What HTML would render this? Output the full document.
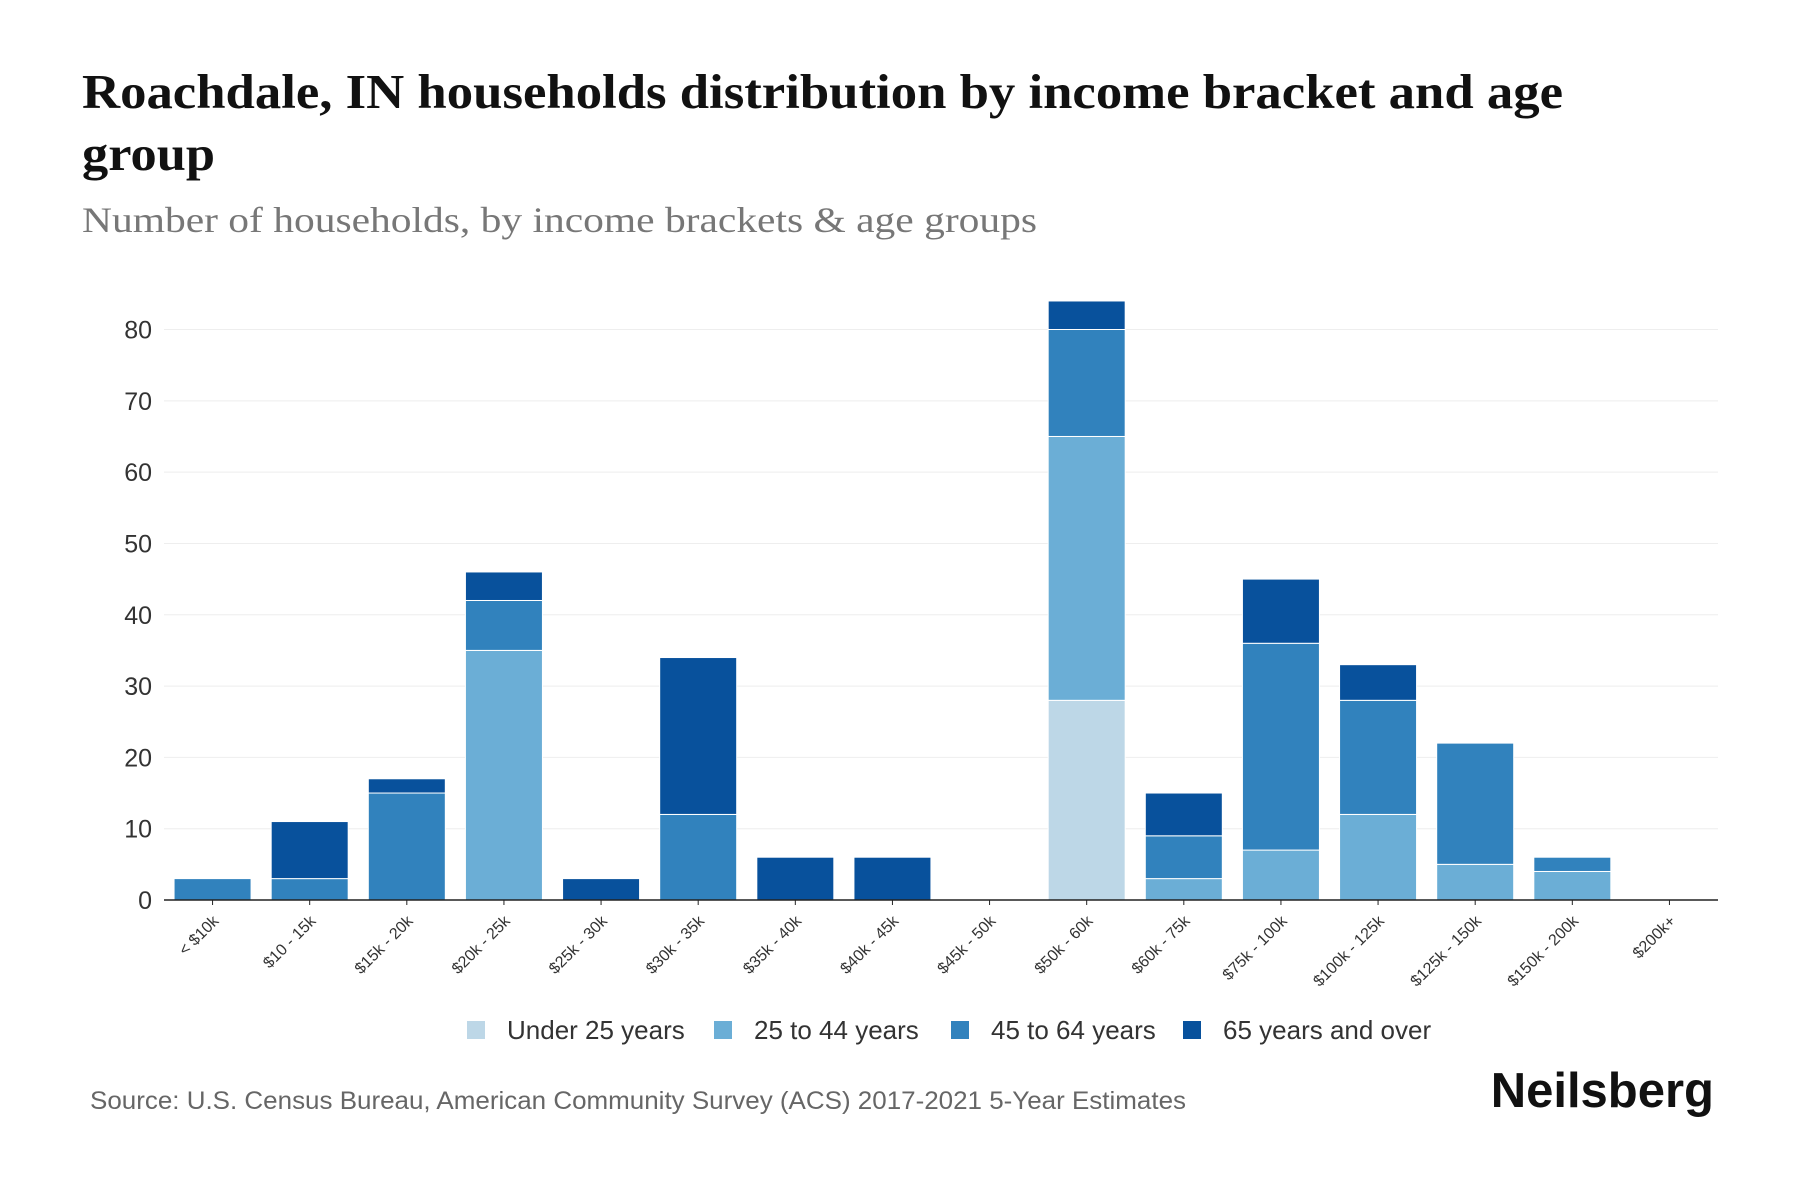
<!DOCTYPE html>
<html><head><meta charset="utf-8">
<style>
body{margin:0;background:#fff;width:1800px;height:1200px;overflow:hidden;font-family:"Liberation Sans",sans-serif;}
svg{display:block}
</style></head>
<body>
<svg id="chart" width="1800" height="1200" xmlns="http://www.w3.org/2000/svg">
<text x="82" y="108" font-family="Liberation Serif, serif" font-weight="bold" font-size="49" fill="#111" textLength="1481" lengthAdjust="spacingAndGlyphs">Roachdale, IN households distribution by income bracket and age</text>
<text x="82" y="170" font-family="Liberation Serif, serif" font-weight="bold" font-size="49" fill="#111" textLength="133" lengthAdjust="spacingAndGlyphs">group</text>
<text x="82" y="232" font-family="Liberation Serif, serif" font-size="36" fill="#777" textLength="955" lengthAdjust="spacingAndGlyphs">Number of households, by income brackets &amp; age groups</text>
<g id="grid"></g>
<g id="bars"></g>
<g id="xaxis"></g>
<g id="legend"></g>
<text x="90" y="1109" font-size="25" fill="#666" textLength="1096" lengthAdjust="spacingAndGlyphs">Source: U.S. Census Bureau, American Community Survey (ACS) 2017-2021 5-Year Estimates</text>
<text x="1714" y="1107" text-anchor="end" font-size="49" font-weight="bold" fill="#111">Neilsberg</text>
</svg>
<script>
const categories = ["< $10k","$10 - 15k","$15k - 20k","$20k - 25k","$25k - 30k","$30k - 35k","$35k - 40k","$40k - 45k","$45k - 50k","$50k - 60k","$60k - 75k","$75k - 100k","$100k - 125k","$125k - 150k","$150k - 200k","$200k+"];
const under25 = [0,0,0,0,0,0,0,0,0,28,0,0,0,0,0,0];
const age25to44 = [0,0,0,35,0,0,0,0,0,37,3,7,12,5,4,0];
const age45to64 = [3,3,15,7,0,12,0,0,0,15,6,29,16,17,2,0];
const age65plus = [0,8,2,4,3,22,6,6,0,4,6,9,5,0,0,0];
const yTicks = [0,10,20,30,40,50,60,70,80];
const seriesNames = ["Under 25 years","25 to 44 years","45 to 64 years","65 years and over"];
const seriesColors = ["#bdd7e7","#6baed6","#3182bd","#08519c"];

const NS="http://www.w3.org/2000/svg";
const x0=164,x1=1718,yBase=900,yPer=(900-329.5)/80;
const step=(x1-x0)/categories.length;
const barW=77;
function yScale(v){return yBase-v*yPer;}
function xCenter(i){return x0+step*(i+0.5);}
function mk(tag,attrs,parent){const e=document.createElementNS(NS,tag);for(const k in attrs)e.setAttribute(k,attrs[k]);parent.appendChild(e);return e;}

const grid=document.getElementById('grid');
yTicks.forEach(t=>{
  if(t>0){const l=mk('line',{x1:x0,x2:x1,y1:yScale(t),y2:yScale(t),stroke:'#eeeeee','stroke-width':1},grid);
  
  }
  const tx=mk('text',{x:152,y:yScale(t)+9,'text-anchor':'end','font-size':25,fill:'#333'},grid);
  tx.textContent=t;
  
  
});

const bars=document.getElementById('bars');
const series=[under25,age25to44,age45to64,age65plus];
categories.forEach((c,i)=>{
  let acc=0;
  series.forEach((s,si)=>{
    const v=s[i]; if(!v) return;
    const r=mk('rect',{x:xCenter(i)-barW/2,y:yScale(acc+v),width:barW,height:v*yPer,fill:seriesColors[si],stroke:'#fff','stroke-width':1},bars);
    
    
    acc+=v;
  });
});

const xa=document.getElementById('xaxis');
const ax=mk('line',{x1:x0,x2:x1,y1:yBase,y2:yBase,stroke:'#222','stroke-width':1.5},xa);


categories.forEach((c,i)=>{
  const cx=xCenter(i);
  mk('line',{x1:cx,x2:cx,y1:yBase,y2:yBase+5,stroke:'#222','stroke-width':1},xa);
  const t=mk('text',{x:cx+7,y:yBase+22,'text-anchor':'end','font-size':16,fill:'#333',transform:`rotate(-45 ${cx+7} ${yBase+22})`},xa);
  t.textContent=c;
  
  
});

const lg=document.getElementById('legend');
const lx=[467,714,951,1183];
seriesNames.forEach((n,i)=>{
  const g=mk('g',{},lg);
  
  
  mk('rect',{x:lx[i],y:1021,width:18,height:18,fill:seriesColors[i]},g);
  const t=mk('text',{x:lx[i]+40,y:1039,'font-size':26,fill:'#333'},g);
  t.textContent=n;
});
</script>
</body></html>
